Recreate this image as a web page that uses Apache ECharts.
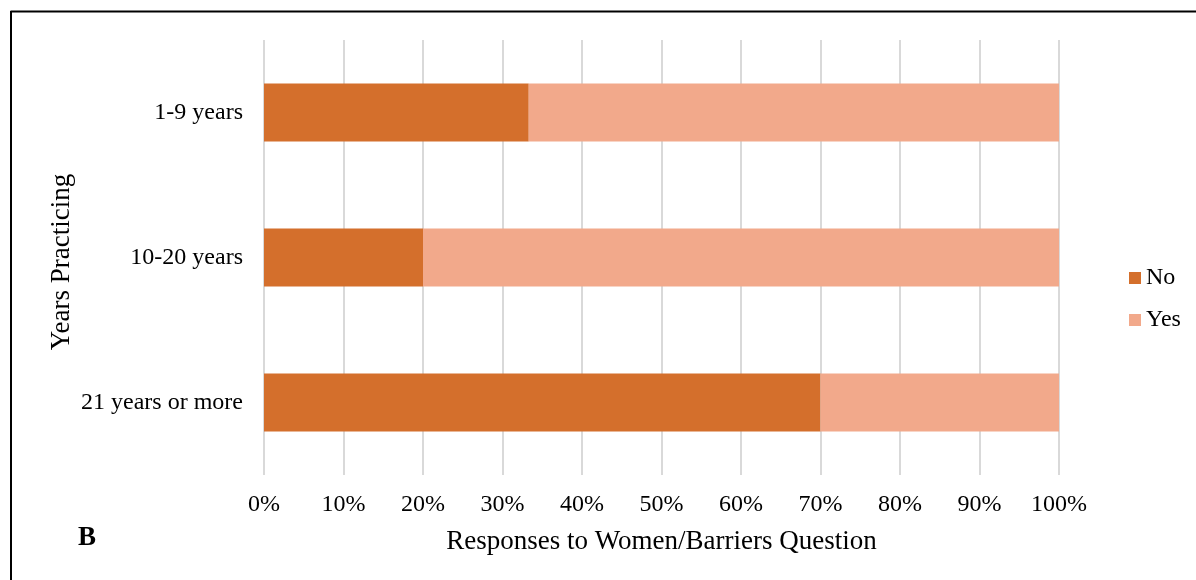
<!DOCTYPE html>
<html>
<head>
<meta charset="utf-8">
<script src="https://cdn.jsdelivr.net/npm/echarts@6/dist/echarts.min.js"></script>
<style>
  html, body { margin: 0; padding: 0; background: #fff; }
  #chart { width: 1196px; height: 580px; }
</style>
</head>
<body>
<div id="chart"></div>
<script>
// Years-of-practice groups and their share of No / Yes answers (percent)
const categories = ['1-9 years', '10-20 years', '21 years or more'];
const noValues = [33.3, 20, 70];
const yesValues = [66.7, 80, 30];
const seriesNames = ['No', 'Yes'];

const FONT = '"Liberation Serif", "Times New Roman", serif';

const chart = echarts.init(document.getElementById('chart'), null, { renderer: 'canvas' });

chart.setOption({
  backgroundColor: '#ffffff',
  animation: false,
  textStyle: { fontFamily: FONT, color: '#000' },
  grid: { left: 264, right: 137, top: 40, bottom: 105, containLabel: false },
  legend: {
    orient: 'vertical',
    left: 1124,
    top: 261,
    itemWidth: 12,
    itemHeight: 12,
    itemGap: 18,
    icon: 'rect',
    textStyle: { fontFamily: FONT, fontSize: 24, color: '#000' },
    data: seriesNames
  },
  xAxis: {
    type: 'value',
    min: 0,
    max: 100,
    interval: 10,
    axisLine: { show: false },
    axisTick: { show: false },
    splitLine: { show: true, lineStyle: { color: '#d9d9d9', width: 2 } },
    axisLabel: { formatter: '{value}%', fontFamily: FONT, fontSize: 24, color: '#000', margin: 18 },
    name: 'Responses to Women/Barriers Question',
    nameLocation: 'middle',
    nameGap: 53,
    nameTextStyle: { fontFamily: FONT, fontSize: 27, color: '#000' }
  },
  yAxis: {
    type: 'category',
    data: categories,
    inverse: true,
    axisLine: { show: false },
    axisTick: { show: false },
    axisLabel: { fontFamily: FONT, fontSize: 24, color: '#000', margin: 21 }
  },
  series: [
    {
      name: seriesNames[0],
      type: 'bar',
      stack: 'total',
      barWidth: '40%',
      itemStyle: { color: '#D46F2C' },
      data: noValues
    },
    {
      name: seriesNames[1],
      type: 'bar',
      stack: 'total',
      barWidth: '40%',
      itemStyle: { color: '#F2A98B' },
      data: yesValues
    }
  ],
  graphic: [
    // frame lines along the top and left
    { type: 'line', shape: { x1: 10.5, y1: 11.5, x2: 1196, y2: 11.5 }, style: { stroke: '#000', lineWidth: 2 } },
    { type: 'line', shape: { x1: 11, y1: 11, x2: 11, y2: 580 }, style: { stroke: '#000', lineWidth: 2 } },
    // vertical axis title
    {
      type: 'text', x: 62, y: 262, rotation: Math.PI / 2,
      style: { text: 'Years Practicing', fontFamily: FONT, fontSize: 27, fill: '#000', align: 'center', verticalAlign: 'middle' }
    },
    // panel letter
    { type: 'text', left: 78, top: 525, style: { text: 'B', fontFamily: FONT, fontSize: 27, fontWeight: 'bold', fill: '#000' } }
  ]
});
</script>
</body>
</html>
